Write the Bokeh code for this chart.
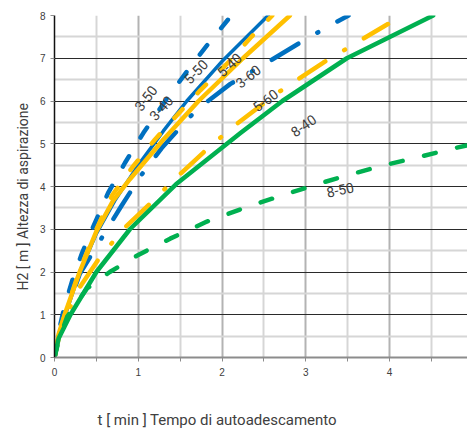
import math
from bokeh.plotting import figure
from bokeh.models import Range1d, FixedTicker, Grid, Title
from bokeh.core.properties import value
from bokeh.embed import file_html
from bokeh.resources import INLINE

# ---- data (t [min] vs H2 [m]) ----
x_3_50 = [0, 0.05, 0.12, 0.22, 0.33, 0.46, 0.64, 0.84, 1.06, 1.34, 1.64, 1.82, 2.07]
y_3_50 = [0, 0.6, 1.2, 1.85, 2.45, 3.05, 3.85, 4.55, 5.25, 6.05, 6.85, 7.3, 7.9]

x_3_40 = [0, 0.05, 0.13, 0.3, 0.5, 0.72, 1.0, 1.3, 1.58, 2.01, 2.55]
y_3_40 = [0, 0.5, 1.0, 2.0, 2.9, 3.67, 4.5, 5.3, 6.0, 6.95, 8.0]

x_3_60 = [0, 0.05, 0.13, 0.3, 0.58, 0.8, 1.03, 1.28, 1.61, 1.78, 2.1, 2.54, 2.91, 3.29, 3.51]
y_3_60 = [0, 0.5, 1.0, 1.95, 2.85, 3.55, 4.25, 4.9, 5.62, 5.92, 6.4, 6.9, 7.34, 7.77, 8.0]

x_5_40 = [0, 0.05, 0.13, 0.3, 0.5, 0.70, 0.9, 1.3, 1.72, 2.25, 2.81]
y_5_40 = [0, 0.55, 1.05, 2.0, 2.95, 3.67, 4.17, 5.1, 6.0, 7.0, 8.0]

x_5_50 = [0, 0.05, 0.13, 0.3, 0.5, 0.69, 0.93, 1.2, 1.5, 1.74, 2.1, 2.35, 2.6]
y_5_50 = [0, 0.55, 1.05, 2.05, 3.0, 3.8, 4.45, 5.1, 5.75, 6.25, 6.95, 7.5, 8.0]

x_5_60 = [0, 0.05, 0.13, 0.30, 0.54, 0.69, 0.82, 1.14, 1.46, 1.78, 2.12, 2.67, 3.21, 3.61, 3.98]
y_5_60 = [0, 0.45, 0.95, 1.64, 2.34, 2.69, 3.0, 3.6, 4.22, 4.8, 5.38, 6.2, 6.9, 7.37, 7.8]

x_8_40 = [0, 0.05, 0.19, 0.5, 0.9, 1.45, 2.22, 2.72, 3.49, 4.52]
y_8_40 = [0, 0.45, 1.0, 2.0, 3.0, 4.05, 5.25, 6.0, 7.0, 8.0]

x_8_50 = [0, 0.05, 0.15, 0.39, 0.66, 1.0, 1.38, 1.82, 2.34, 2.73, 3.13, 3.49, 3.92, 4.33, 4.76, 4.92]
y_8_50 = [0, 0.4, 0.95, 1.62, 2.0, 2.4, 2.78, 3.18, 3.55, 3.8, 4.05, 4.26, 4.49, 4.68, 4.89, 4.96]

label_text = ["3-50", "3-40", "5-50", "5-40", "3-60", "5-60", "8-40", "8-50"]
label_x = [1.087, 1.27, 1.685, 2.085, 2.31, 2.515, 2.97, 3.41]
label_y = [6.07, 5.84, 6.69, 6.85, 6.58, 6.02, 5.43, 3.93]
label_deg = [52, 48, 47, 43, 39, 37, 35, 12]

x_ticks = [0, 0.5, 1, 1.5, 2, 2.5, 3, 3.5, 4, 4.5]
y_ticks = [0, 1, 2, 3, 4, 5, 6, 7, 8]

x_title = "t [ min ] Tempo di autoadescamento"
y_title = "H2 [ m ] Altezza di aspirazione"

BLUE = "#0070C0"
YELLOW = "#FFC000"
GREEN = "#00B050"

p = figure(width=467, height=432, output_backend="svg", toolbar_location=None,
           x_range=Range1d(0, 4.93), y_range=Range1d(0, 8),
           min_border_left=54, min_border_right=0, min_border_top=15, min_border_bottom=75)
p.outline_line_color = None
p.background_fill_color = "white"
p.border_fill_color = "white"

# grids
p.xgrid.visible = False
p.ygrid.visible = False
p.add_layout(Grid(dimension=0, ticker=FixedTicker(ticks=[0.5, 1.5, 2.5, 3.5, 4.5]),
                  grid_line_color="#d6d6d6", grid_line_width=2))
p.add_layout(Grid(dimension=0, ticker=FixedTicker(ticks=[1, 2, 3, 4]),
                  grid_line_color="#b3b3b3", grid_line_width=2))
p.add_layout(Grid(dimension=1, ticker=FixedTicker(ticks=[0.5, 1.5, 2.5, 3.5, 4.5, 5.5, 6.5, 7.5]),
                  grid_line_color="#d6d6d6", grid_line_width=2))
p.add_layout(Grid(dimension=1, ticker=FixedTicker(ticks=[1, 2, 3, 4, 5, 6, 7]),
                  grid_line_color="#2a2a2a", grid_line_width=1.2))
p.add_layout(Grid(dimension=1, ticker=FixedTicker(ticks=[8]),
                  grid_line_color="#8c8c8c", grid_line_width=2.5))

# axes
p.xaxis.ticker = FixedTicker(ticks=x_ticks)
p.xaxis.major_label_overrides = {0: "0", 0.5: "", 1: "1", 1.5: "", 2: "2", 2.5: "", 3: "3", 3.5: "", 4: "4", 4.5: ""}
p.xaxis.axis_line_color = "#8c8c8c"
p.xaxis.axis_line_width = 2
p.xaxis.major_tick_line_color = "#8c8c8c"
p.xaxis.major_tick_out = 4
p.xaxis.major_tick_in = 0
p.xaxis.minor_tick_line_color = None
p.xaxis.major_label_standoff = 6

p.yaxis.ticker = FixedTicker(ticks=y_ticks)
p.yaxis.axis_line_color = "#111111"
p.yaxis.axis_line_width = 1.5
p.yaxis.major_tick_line_color = "#8c8c8c"
p.yaxis.major_tick_out = 4
p.yaxis.major_tick_in = 0
p.yaxis.minor_tick_line_color = None
p.yaxis.major_label_standoff = 5

for ax in (p.xaxis, p.yaxis):
    ax.major_label_text_font = "Liberation Sans"
    ax.major_label_text_font_size = "10px"
    ax.major_label_text_color = "#404040"

common = dict(line_width=4.5, line_cap="round", line_join="round")
DASH = "12 22"
DASHDOT = "31 22 1 22"

p.line(x_3_60, y_3_60, line_color=BLUE, line_dash=DASHDOT, **common)
p.line(x_3_50, y_3_50, line_color=BLUE, line_dash=DASH, **common)
p.line(x_3_40, y_3_40, line_color=BLUE, line_width=3.5, line_cap="round", line_join="round")
p.line(x_5_60, y_5_60, line_color=YELLOW, line_dash=DASHDOT, **common)
p.line(x_5_50, y_5_50, line_color=YELLOW, line_dash=DASH, **common)
p.line(x_5_40, y_5_40, line_color=YELLOW, **common)
p.line(x_8_50, y_8_50, line_color=GREEN, line_dash=DASH, **common)
p.line(x_8_40, y_8_40, line_color=GREEN, **common)

p.text(x=label_x, y=label_y, text=label_text,
       angle=[math.radians(a) for a in label_deg],
       text_font=value("Roboto"), text_font_size="14px", text_color="#404040",
       text_align="center", text_baseline="middle")

p.add_layout(Title(text=y_title, align="left", offset=67, standoff=12,
                   text_font="Roboto", text_font_size="14px", text_font_style="normal",
                   text_color="#404040"), "left")
# blank spacer between the tick labels and the x title
p.add_layout(Title(text="\u00a0", standoff=16, text_font_size="10px",
                   text_color="white"), "below")
p.add_layout(Title(text=x_title, align="left", offset=43, standoff=2,
                   text_font="Roboto", text_font_size="15px", text_font_style="normal",
                   text_color="#404040"), "below")

open("out.html", "w").write(file_html(p, INLINE))
